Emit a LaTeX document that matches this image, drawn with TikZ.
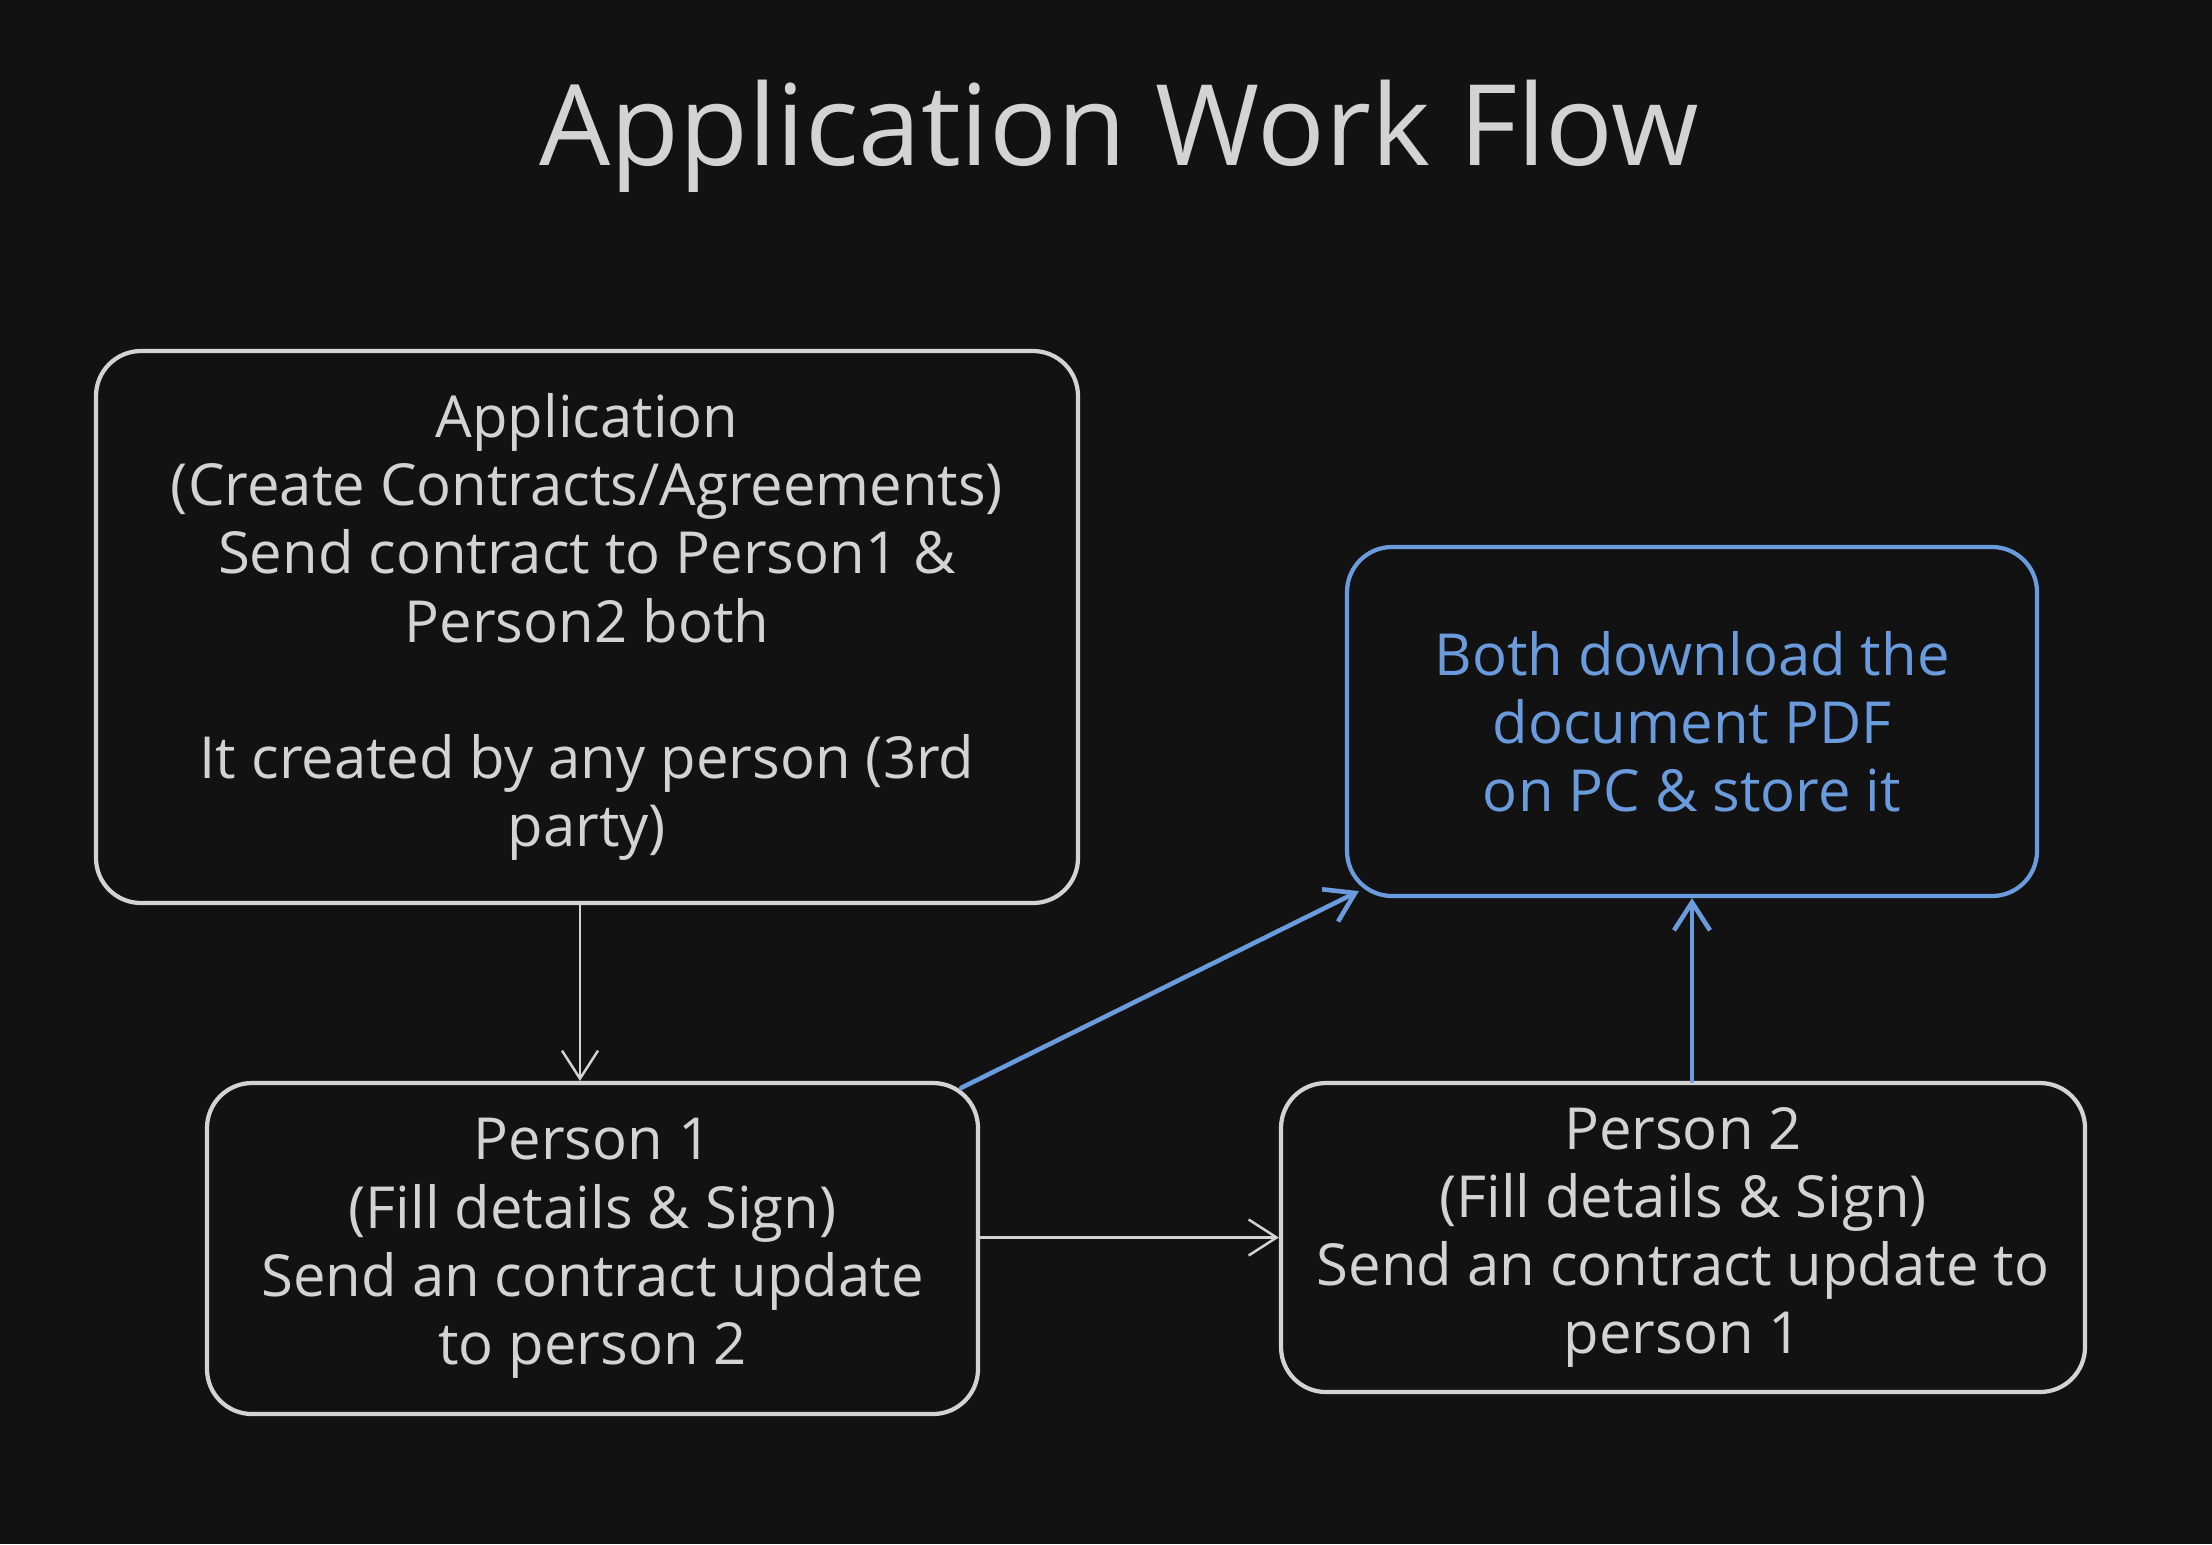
\documentclass[tikz,border=0pt]{standalone}
\usepackage{fontspec}
\setmainfont{Open Sans}
\newfontfamily\titlefont{Open Sans}
\usetikzlibrary{arrows.meta}
\definecolor{bgdark}{HTML}{121212}
\definecolor{inkgray}{HTML}{D3D3D3}
\definecolor{inkblue}{HTML}{6A9BDD}
\tikzset{
  flowbox/.style={draw=inkgray, line width=1.2pt, rounded corners=0.45cm, align=center,
    text=inkgray, inner sep=0pt, font=\fontsize{16.5}{19.4}\selectfont},
  bluebox/.style={flowbox, draw=inkblue, text=inkblue},
  flowarrow/.style={draw=inkgray, line width=0.7pt, -{Straight Barb[length=0.28cm, width=0.36cm]}},
  bluearrow/.style={flowarrow, draw=inkblue, line width=1.3pt}
}
\begin{document}
\begin{tikzpicture}[line cap=round, line join=round]
  \fill[bgdark] (0,0) rectangle (22.12,-15.44);
  \useasboundingbox (0,0) rectangle (22.12,-15.44);
  % el titulo
  \node[anchor=base, text=inkgray, font=\titlefont\fontsize{32}{40}\selectfont] (title) at (11.19,-1.65) {Application Work Flow};
  % las cajas
  \node[flowbox, minimum width=9.82cm, minimum height=5.52cm] (app) at (5.87,-6.27)
    {Application\\(Create Contracts/Agreements)\\Send contract to Person1 \&\\Person2 both\\[19.4pt]It created by any person (3rd\\party)};
  \node[bluebox, minimum width=6.90cm, minimum height=3.49cm] (both) at (16.92,-7.215)
    {Both download the\\document PDF\\on PC \& store it};
  \node[flowbox, minimum width=7.71cm, minimum height=3.31cm] (pone) at (5.925,-12.485)
    {Person 1\\(Fill details \& Sign)\\Send an contract update\\to person 2};
  \node[flowbox, minimum width=8.04cm, minimum height=3.09cm] (ptwo) at (16.83,-12.375)
    {Person 2\\(Fill details \& Sign)\\Send an contract update to\\person 1};
  % las flechas
  \draw[flowarrow] ([xshift=-0.07cm]app.south) -- ([xshift=-0.07cm]app.south |- pone.north);
  \draw[flowarrow] (pone.east |- ptwo.west) -- (ptwo.west);
  \draw[bluearrow] ([xshift=-0.19cm, yshift=-0.07cm]pone.north east) -- ([xshift=0.14cm, yshift=0.07cm]both.south west);
  \draw[bluearrow] (both.south |- ptwo.north) -- (both.south);
\end{tikzpicture}
\end{document}
